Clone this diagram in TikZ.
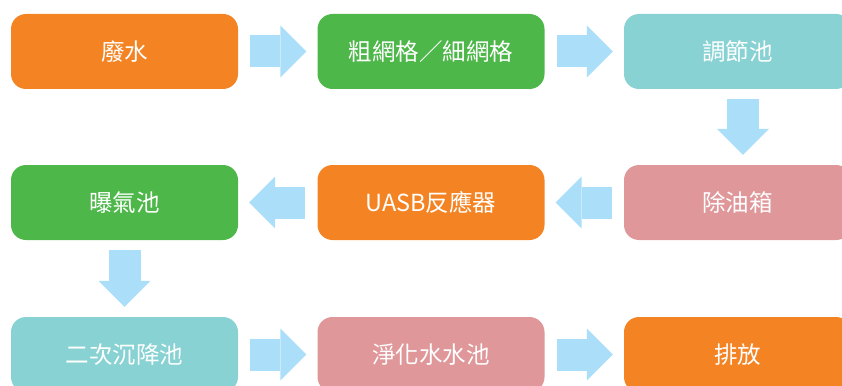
\documentclass[tikz,border=0pt]{standalone}
\usepackage{fontspec}
\newfontfamily\cjk{Noto Sans CJK TC}
\usetikzlibrary{arrows.meta}
\definecolor{boxorange}{HTML}{F48423}
\definecolor{boxgreen}{HTML}{4DB849}
\definecolor{boxteal}{HTML}{88D2D3}
\definecolor{boxpink}{HTML}{DF979A}
\definecolor{flowblue}{HTML}{ABDFF9}
\tikzset{
  stepbox/.style={draw=none, fill=#1, rounded corners=15pt, minimum width=227pt,
    minimum height=75pt, text=white, font=\cjk\fontsize{23.5}{28}\selectfont},
  flow/.style={draw=flowblue, line width=32pt,
    -{Triangle[length=26pt, width=52pt, line width=0pt]}},
  hflow/.style={flow, shorten <=12pt, shorten >=11pt},
  vflow/.style={flow, shorten <=10pt, shorten >=10pt}
}
\begin{document}
\begin{tikzpicture}[x=1pt, y=-1pt]
	\clip (0,0) rectangle (842,385);
	% row 1
	\node[stepbox=boxorange] (waste) at (124.5, 51.5) {廢水};
	\node[stepbox=boxgreen] (screen) at (431, 51.5) {粗網格／細網格};
	\node[stepbox=boxteal] (equal) at (737.5, 51.5) {調節池};
	% row 2
	\node[stepbox=boxgreen] (aerat) at (124.5, 202.5) {曝氣池};
	\node[stepbox=boxorange] (uasb) at (431, 202.5) {UASB反應器};
	\node[stepbox=boxpink] (oilsep) at (737.5, 202.5) {除油箱};
	% row 3
	\node[stepbox=boxteal] (clarif) at (124.5, 354.5) {二次沉降池};
	\node[stepbox=boxpink] (purif) at (431, 354.5) {淨化水水池};
	\node[stepbox=boxorange] (discharge) at (737.5, 354.5) {排放};
	% flow arrows
	\draw[hflow] (waste.east) -- (screen.west);
	\draw[hflow] (screen.east) -- (equal.west);
	\draw[vflow] ([xshift=5.5pt]equal.south) -- ([xshift=5.5pt]oilsep.north);
	\draw[hflow] (oilsep.west) -- (uasb.east);
	\draw[hflow] (uasb.west) -- (aerat.east);
	\draw[vflow] (aerat.south) -- (clarif.north);
	\draw[hflow] (clarif.east) -- (purif.west);
	\draw[hflow] (purif.east) -- (discharge.west);
\end{tikzpicture}
\end{document}
